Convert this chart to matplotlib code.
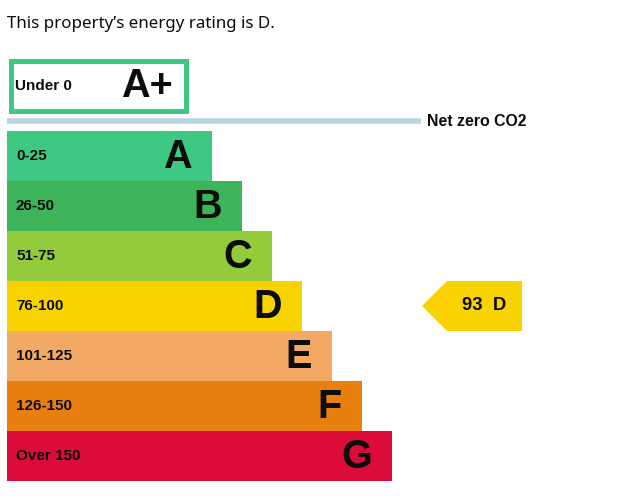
import matplotlib
matplotlib.use('Agg')
import matplotlib.pyplot as plt
from matplotlib.patches import Rectangle, Polygon

# EPC bands
bands = ["A", "B", "C", "D", "E", "F", "G"]
ranges = ["0-25", "26-50", "51-75", "76-100", "101-125", "126-150", "Over 150"]
colors = ["#3fc882", "#3db35a", "#93cb3d", "#f8d300", "#f2a963", "#e8800f", "#dc0c38"]
plus_label = "Under 0"
plus_band = "A+"
current_score = 93
current_band = "D"
title = "This property\u2019s energy rating is D."

fig = plt.figure(figsize=(6.21, 5.01), dpi=100)
ax = fig.add_axes([0, 0, 1, 1])
ax.set_xlim(0, 621)
ax.set_ylim(501, 0)
ax.axis('off')

bold = dict(family=['Liberation Sans', 'DejaVu Sans'], weight='bold', color='#0b0c0c')

ax.text(7, 24, title, fontsize=12.2, family=['Noto Sans', 'DejaVu Sans'],
        color='#0b0c0c', va='center', ha='left')

# A+ box
ax.add_patch(Rectangle((10.5, 60.5), 175, 50, facecolor='white',
                       edgecolor='#3fc882', linewidth=3.6))
ax.text(15, 85.5, plus_label, fontsize=11, va='center', ha='left', **bold)
ax.text(173, 86, plus_band, fontsize=28.5, va='center', ha='right', **bold)

# net zero line
ax.plot([7, 421], [121, 121], color='#b8d5df', linewidth=4, solid_capstyle='butt')
ax.text(427, 121, "Net zero CO2", fontsize=11.4, va='center', ha='left', **bold)

# band bars
y0 = 131
h = 50
widths = [205 + 30 * i for i in range(len(bands))]
ys = [y0 + h * i + h / 2 for i in range(len(bands))]
ax.barh(ys, widths, height=h, left=7, color=colors, linewidth=0)
for b, r, w, y in zip(bands, ranges, widths, ys):
    ax.text(16, y, r, fontsize=11, va='center', ha='left', **bold)
    ax.text(7 + w - 20, y + 1, b, fontsize=28.5, va='center', ha='right', **bold)

# current rating arrow
i = bands.index(current_band)
yc = ys[i]
ax.add_patch(Polygon([(422, yc), (447, yc - h / 2), (522, yc - h / 2),
                      (522, yc + h / 2), (447, yc + h / 2)],
                     closed=True, facecolor=colors[i], edgecolor='none'))
ax.text(484, yc, f"{current_score}  {current_band}", fontsize=13.3,
        va='center', ha='center', **bold)

plt.savefig("out.png", dpi=100)
